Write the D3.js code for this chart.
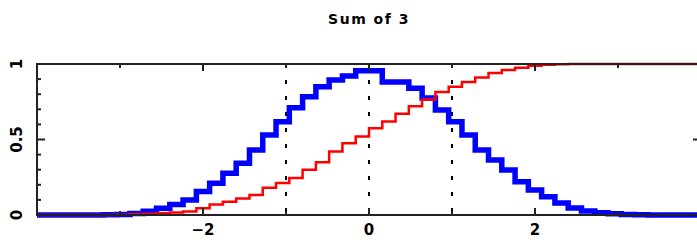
<!DOCTYPE html>
<html>
<head>
<meta charset="utf-8">
<script src="https://cdn.jsdelivr.net/npm/d3@7"></script>
<style>
  body { margin: 0; background: #fff; }
  svg { display: block; }
  text { font-family: "DejaVu Sans", sans-serif; font-weight: bold; fill: #000; }
</style>
</head>
<body>
<div id="chart"></div>
<script>
// bins of width 0.16 from -4 to 4 (left edges)
var binWidth = 0.16;
var binStart = -4;

// histogram of the sum (blue)
var histValues = [0, 0, 0, 0, 0, 0.001, 0.003, 0.01, 0.025, 0.045,
  0.07, 0.1, 0.155, 0.21, 0.276, 0.342, 0.43, 0.53, 0.618, 0.71,
  0.783, 0.85, 0.894, 0.92, 0.955, 0.955, 0.88, 0.88, 0.84, 0.775,
  0.695, 0.618, 0.53, 0.43, 0.364, 0.298, 0.22, 0.166, 0.121, 0.08,
  0.046, 0.026, 0.015, 0.008, 0.003, 0.001, 0, 0, 0, 0];

// cumulative (red)
var cdfValues = [0, 0, 0, 0, 0, 0, 0.002, 0.005, 0.008, 0.012,
  0.017, 0.024, 0.045, 0.07, 0.087, 0.11, 0.132, 0.18, 0.212, 0.245,
  0.3, 0.35, 0.42, 0.475, 0.52, 0.575, 0.62, 0.67, 0.72, 0.765,
  0.815, 0.85, 0.88, 0.91, 0.94, 0.96, 0.975, 0.988, 0.995, 0.999,
  1, 1, 1, 1, 1, 1, 1, 1, 1, 1];

var xMajorTicks = [-2, 0, 2];
var xMinorTicks = [-3, -1, 1, 3];
var gridLines = [-1, 0, 1];
var yLabelTicks = [0, 0.5, 1];
var yMinorTicks = [0.1, 0.2, 0.3, 0.4, 0.6, 0.7, 0.8, 0.9];

var svgWidth = 697;
var svgHeight = 242;
var margin = { top: 64, right: -4, bottom: 27, left: 37 };
var width = svgWidth - margin.left - margin.right;
var height = svgHeight - margin.top - margin.bottom;

var svg = d3.select("#chart")
  .append("svg")
  .attr("width", svgWidth)
  .attr("height", svgHeight);

var chart = svg.append("g")
  .attr("transform", "translate(" + margin.left + "," + margin.top + ")");

var xScale = d3.scaleLinear().domain([-4, 4]).range([0, width]);
var yScale = d3.scaleLinear().domain([0, 1]).range([height, 0]);

// title
svg.append("text")
  .attr("x", xScale(0) + margin.left)
  .attr("y", 24)
  .attr("text-anchor", "middle")
  .style("font-size", "14px")
  .style("letter-spacing", "1.5px")
  .text("Sum of 3");

// dotted grid lines
chart.selectAll(".grid")
  .data(gridLines)
  .enter()
  .append("line")
  .attr("x1", function(d) { return xScale(d); })
  .attr("x2", function(d) { return xScale(d); })
  .attr("y1", 0)
  .attr("y2", height)
  .attr("stroke", "#000")
  .attr("stroke-width", 2)
  .attr("stroke-dasharray", "4,12");

// turn bins into step points
function stepPoints(values) {
  var pts = values.map(function(v, i) { return [binStart + i * binWidth, v]; });
  pts.push([binStart + values.length * binWidth, values[values.length - 1]]);
  return pts;
}

var stepLine = d3.line()
  .x(function(d) { return xScale(d[0]); })
  .y(function(d) { return yScale(d[1]); })
  .curve(d3.curveStepAfter);

chart.append("path")
  .attr("d", stepLine(stepPoints(histValues)))
  .attr("fill", "none")
  .attr("stroke", "#0000ff")
  .attr("stroke-width", 5.5);

chart.append("path")
  .attr("d", stepLine(stepPoints(cdfValues)))
  .attr("fill", "none")
  .attr("stroke", "#ff0000")
  .attr("stroke-width", 2.5);

// frame
chart.append("rect")
  .attr("x", 0)
  .attr("y", 0)
  .attr("width", width)
  .attr("height", height)
  .attr("fill", "none")
  .attr("stroke", "#222")
  .attr("stroke-width", 2);

// x ticks (inward, bottom and top)
function xTicks(data, len) {
  chart.selectAll(null).data(data).enter().append("line")
    .attr("x1", function(d) { return xScale(d); })
    .attr("x2", function(d) { return xScale(d); })
    .attr("y1", height).attr("y2", height - len)
    .attr("stroke", "#222").attr("stroke-width", 2);
  chart.selectAll(null).data(data).enter().append("line")
    .attr("x1", function(d) { return xScale(d); })
    .attr("x2", function(d) { return xScale(d); })
    .attr("y1", 0).attr("y2", len)
    .attr("stroke", "#222").attr("stroke-width", 2);
}
xTicks(xMajorTicks, 7);
xTicks(xMinorTicks, 4);

// y ticks (inward, left and right)
function yTicks(data, len) {
  chart.selectAll(null).data(data).enter().append("line")
    .attr("x1", 0).attr("x2", len)
    .attr("y1", function(d) { return yScale(d); })
    .attr("y2", function(d) { return yScale(d); })
    .attr("stroke", "#222").attr("stroke-width", 2);
  chart.selectAll(null).data(data).enter().append("line")
    .attr("x1", width).attr("x2", width - len)
    .attr("y1", function(d) { return yScale(d); })
    .attr("y2", function(d) { return yScale(d); })
    .attr("stroke", "#222").attr("stroke-width", 2);
}
yTicks(yMinorTicks, 4);
yTicks([0.5], 8);

// x labels
chart.selectAll(".xlabel")
  .data(xMajorTicks)
  .enter()
  .append("text")
  .attr("x", function(d) { return xScale(d); })
  .attr("y", height + 20)
  .attr("text-anchor", "middle")
  .style("font-size", "15px")
  .text(function(d) { return d < 0 ? "\u2212" + Math.abs(d) : d; });

// y labels, rotated
chart.selectAll(".ylabel")
  .data(yLabelTicks)
  .enter()
  .append("text")
  .attr("transform", function(d) {
    return "translate(-15," + yScale(d) + ") rotate(-90)";
  })
  .attr("text-anchor", "middle")
  .style("font-size", "15px")
  .text(function(d) { return d; });
</script>
</body>
</html>
